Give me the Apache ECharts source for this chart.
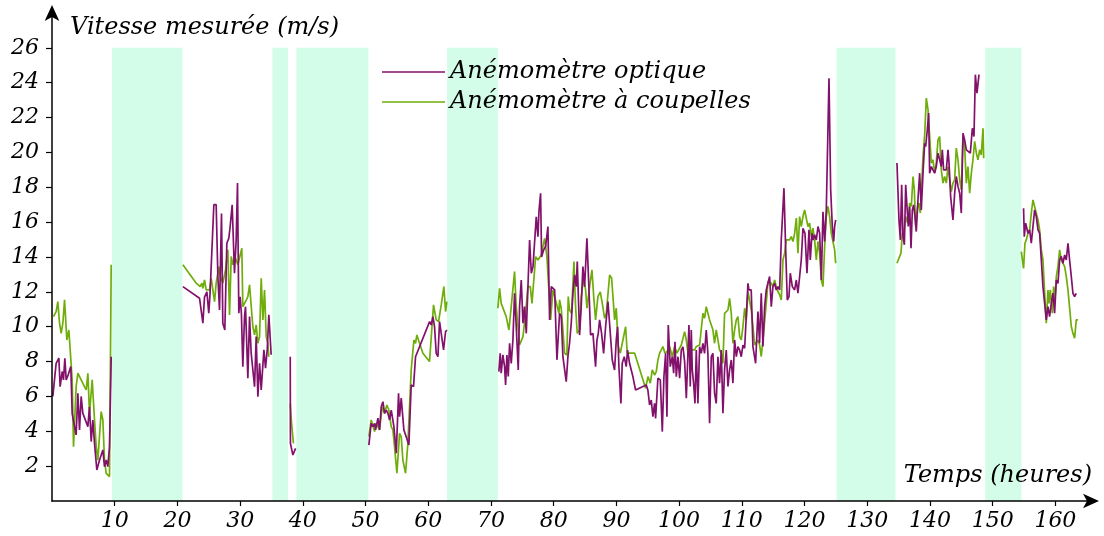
<!DOCTYPE html>
<html>
<head>
<meta charset="utf-8">
<script src="https://cdn.jsdelivr.net/npm/echarts@6/dist/echarts.min.js"></script>
<style>html,body{margin:0;padding:0;background:#fff}#c{width:1104px;height:536px}</style>
</head>
<body>
<div id="c"></div>
<script>
// ---- data ----
const xTicks = [10,20,30,40,50,60,70,80,90,100,110,120,130,140,150,160];
const yTicks = [2,4,6,8,10,12,14,16,18,20,22,24,26];
const bands = [[9.57,20.8],[35.15,37.65],[38.96,50.46],[63.0,71.1],[125.1,134.5],[148.8,154.6]];
const seriesNames = ['Anémomètre optique','Anémomètre à coupelles'];

const optique = [
[0.13,6.0],[0.66,7.9],[1.09,8.2],[1.3,6.56],[1.62,7.43],[1.83,6.95],[2.05,8.19],[2.26,6.95],[2.58,7.24],[3.0,7.72],[3.22,5.0],[3.85,3.79],[4.12,6.18],[4.39,4.08],[4.65,6.0],[4.92,5.03],[5.72,4.27],[5.98,5.41],[6.25,3.41],[6.51,4.65],[6.78,3.31],[7.15,1.78],[7.58,2.35],[8.11,2.93],[8.37,1.97],[8.64,2.35],[8.9,1.97],[9.17,3.12],[9.44,8.28],
[10,null],
[20.87,12.3],[23.53,11.63],[24.06,10.2],[24.32,11.7],[24.7,12.0],[25.0,10.77],[25.2,11.9],[25.5,11.83],[25.81,17.0],[26.18,17.0],[26.45,12.88],[26.71,10.96],[27.03,16.5],[27.24,10.2],[27.56,9.81],[27.88,14.79],[28.2,15.08],[28.41,15.75],[28.73,17.0],[29.1,13.07],[29.37,14.98],[29.58,18.24],[29.79,10.77],[30.0,11.72],[30.2,10.77],[30.43,7.71],[30.7,10.58],[30.86,11.15],[31.23,7.04],[31.5,10.58],[31.76,8.48],[31.92,8.48],[32.3,6.56],[32.56,9.43],[32.83,5.99],[33.1,7.9],[33.36,6.37],[33.79,8.67],[34.05,7.62],[34.32,8.67],[34.58,10.68],[34.95,8.39],
[36,null],
[37.99,8.28],[38.02,3.31],[38.41,2.64],[38.84,3.02],
[45,null],
[50.53,3.21],[50.9,4.46],[51.17,4.27],[51.44,4.46],[51.6,4.08],[51.97,4.75],[52.23,4.08],[52.5,5.41],[52.77,5.7],[53.03,5.03],[53.3,5.22],[53.57,5.03],[53.83,4.65],[54.1,5.22],[54.36,5.22],[54.52,4.27],[54.9,2.74],[55.26,6.18],[55.42,4.84],[55.69,5.9],[56.11,4.08],[56.48,3.69],[56.91,3.21],[57.28,6.66],[57.65,6.56],[57.97,8.28],[60.21,10.29],[60.47,10.1],[60.74,10.58],[61.0,10.0],[61.27,8.47],[61.54,8.28],[61.8,10.29],[62.07,10.29],[62.44,8.67],[62.76,9.72],[62.97,9.81],
[67,null],
[71.26,7.42],[71.47,8.47],[71.63,7.33],[71.9,8.38],[72.17,7.71],[72.33,6.66],[72.54,8.38],[72.75,7.14],[72.97,9.05],[73.23,7.9],[73.5,9.24],[73.76,11.92],[74.03,10.0],[74.35,7.52],[74.56,11.15],[74.83,12.68],[75.1,10.2],[75.36,11.15],[75.63,9.62],[76.16,14.98],[76.43,13.07],[76.7,13.45],[77.22,16.3],[77.49,15.17],[77.65,16.6],[77.91,17.66],[78.07,14.0],[78.39,14.4],[78.71,14.6],[79.08,15.75],[79.35,10.39],[79.62,12.3],[80.15,12.11],[80.52,8.1],
[80.94,10.77],[81.21,10.58],[81.47,8.28],[81.74,8.28],[82.0,6.85],[82.27,8.28],[82.53,9.05],[82.8,10.2],[83.07,11.92],[83.33,12.97],[83.6,12.3],[83.76,13.74],[84.13,9.52],[84.39,11.15],[84.66,13.45],[84.93,12.3],[85.3,15.08],[85.61,12.3],[85.88,9.52],[86.26,9.62],[86.68,7.71],[86.9,9.24],[87.11,9.62],[87.32,10.39],[87.64,9.62],[87.96,8.47],[88.28,10.0],[88.65,11.44],[88.91,10.2],[89.34,8.09],[89.71,7.52],[89.98,9.24],[90.19,10.0],[90.4,7.71],[90.72,5.6],[90.93,7.9],[91.25,8.28],[91.57,7.71],[91.78,8.66],[92.1,7.9],[92.63,7.14],[93.06,6.37],[94.76,6.66],[95.02,6.37],[95.29,5.51],[95.56,5.79],[95.82,4.84],[96.09,5.6],[96.25,4.74],[96.62,7.04],[97.0,6.95],[97.32,3.98],[97.58,7.14],[97.85,8.47],[98.06,4.84],[98.27,10.1],[98.59,7.71],[98.91,8.28],[99.13,7.33],[99.34,9.14],
[99.55,7.13],[99.82,8.28],[100.08,7.04],[100.35,8.66],[100.61,8.85],[100.88,8.0],[101.15,5.9],[101.41,8.47],[101.57,10.1],[101.78,6.57],[101.94,9.81],[102.1,7.52],[102.31,6.76],[102.53,5.6],[102.74,8.66],[103.0,5.6],[103.27,8.85],[103.53,8.47],[103.8,9.05],[104.06,8.47],[104.33,9.81],[104.59,8.47],[104.86,4.46],[105.13,8.28],[105.39,8.47],[105.66,6.18],[105.92,5.6],[106.19,8.28],[106.45,6.76],[106.72,8.66],[106.99,5.03],[107.25,7.52],[107.52,8.66],[107.79,6.57],[108.05,7.52],[108.32,8.09],[108.58,6.76],[108.85,9.24],[109.12,8.28],[109.38,8.85],[109.65,8.66],[109.91,8.28],[110.18,8.95],[110.45,8.76],[110.71,8.66],[110.98,12.49],
[111.13,12.11],[111.5,12.11],[111.77,8.86],[112.2,7.9],[112.57,10.87],[112.83,9.05],[113.1,11.92],[113.37,8.86],[113.64,11.15],[113.9,12.11],[114.16,12.49],[114.43,12.88],[114.7,11.15],[114.96,12.3],[115.23,12.49],[115.49,12.11],[115.76,12.3],[116.03,12.11],[116.29,14.98],[116.72,17.95],[116.98,14.6],[117.25,11.53],[117.52,11.72],[117.73,13.07],[118.05,12.3],[118.42,12.11],[118.69,12.68],[118.95,11.92],[119.22,12.88],[119.48,13.83],[119.75,15.65],[120.07,15.36],[120.39,13.07],[120.71,15.56],[120.92,13.83],[121.19,15.36],[121.35,14.98],[121.61,15.27],[121.88,14.98],[122.15,15.75],[122.41,15.36],[122.68,12.68],[122.94,16.6],[123.21,14.89],[123.47,16.7],[123.9,24.26],[124.17,17.86],[124.43,15.75],[124.65,14.89],[124.8,15.75],[124.96,16.13],
[130,null],
[134.74,19.39],[135.06,16.13],[135.28,14.98],[135.49,18.14],[135.7,15.17],[135.92,14.7],[136.13,18.14],[136.34,16.9],[136.55,15.75],[136.77,16.9],[136.98,14.5],[137.19,16.7],[137.4,16.99],[137.61,16.32],[137.82,15.46],[138.09,17.28],[138.36,18.81],[138.62,16.7],[138.89,18.81],[139.16,20.53],[139.32,20.34],[139.58,21.3],[139.79,22.26],[139.95,18.81],[140.22,19.19],[140.48,19.0],[140.75,18.81],[141.01,19.19],[141.28,19.96],[141.55,19.58],[141.81,19.19],[141.97,20.15],[142.18,19.0],[142.4,19.0],[142.61,19.0],[142.88,20.15],[143.04,19.39],[143.3,17.47],[143.67,16.13],[143.94,17.66],[144.2,18.62],[144.47,18.05],[144.74,17.66],[145.0,16.52],[145.27,21.11],[145.53,20.72],[145.8,20.15],[146.06,20.05],[146.44,19.96],[146.76,21.39],[147.02,20.91],[147.24,24.46],[147.5,23.4],[147.82,24.46],
[150,null],
[154.93,16.8],[155.04,15.17],[155.26,15.94],[155.63,15.36],[155.9,15.56],[156.16,14.79],[156.43,15.75],[156.69,16.7],[156.96,16.32],[157.23,15.56],[157.49,15.36],[157.76,13.83],[158.02,12.3],[158.29,11.34],[158.55,10.39],[158.82,11.15],[159.08,10.58],[159.35,11.34],[159.62,11.92],[159.88,10.77],[160.15,12.68],[160.41,12.49],[160.68,13.83],[160.94,14.03],[161.21,13.64],[161.48,14.12],[161.74,13.83],[162.01,14.79],[162.27,13.83],[162.54,12.88],[162.8,11.92],[163.07,11.73],[163.33,11.92]
];

const coupelles = [
[0.24,10.58],[0.66,10.87],[0.93,11.44],[1.2,10.2],[1.46,9.62],[1.73,10.2],[2.0,11.54],[2.37,9.24],[2.69,9.81],[3.0,9.81],[3.22,6.95],[3.43,3.12],[3.85,6.56],[4.12,7.33],[4.65,6.95],[5.18,6.56],[5.45,6.37],[5.72,7.33],[5.98,5.03],[6.41,6.95],[6.78,4.65],[7.05,3.12],[7.31,2.35],[7.84,5.13],[8.11,4.65],[8.37,2.35],[8.64,1.59],[9.17,1.4],[9.44,13.55],
[10,null],
[20.87,13.55],[23.0,12.5],[23.63,12.3],[23.9,12.5],[24.06,12.2],[24.32,12.68],[24.59,12.11],[25.12,12.11],[25.39,12.78],[25.65,12.78],[25.92,11.44],[26.18,12.5],[26.61,13.45],[26.82,12.88],[27.25,12.5],[27.67,13.26],[28.04,14.41],[28.31,10.68],[28.58,14.03],[28.84,13.55],[29.11,14.03],[29.37,13.83],[29.64,13.55],[29.9,13.64],[30.27,14.5],[30.43,11.15],[30.7,11.25],[30.97,11.53],[31.23,11.72],[31.5,12.4],[31.76,12.4],[32.03,10.0],[32.3,9.53],[32.56,10.1],[32.83,9.05],[33.1,9.43],[33.36,12.78],[33.63,10.39],[33.89,12.11],[34.16,9.43],[34.42,9.05],[34.58,8.28],
[36,null],
[37.99,5.6],[38.2,4.45],[38.5,3.31],
[45,null],
[50.53,3.69],[50.9,4.65],[51.17,4.75],[51.44,3.98],[51.7,4.46],[51.97,4.27],[52.23,4.08],[52.66,5.41],[53.03,5.03],[53.4,5.51],[53.72,5.22],[54.09,4.27],[54.36,4.08],[54.62,3.12],[55.0,1.59],[55.42,3.88],[55.69,3.69],[55.95,2.35],[56.38,1.59],[56.75,3.31],[57.28,7.52],[57.55,7.52],[57.71,9.24],[57.97,9.05],[58.18,9.53],[59.14,8.48],[60.2,8.0],[60.47,7.9],[60.84,11.25],[61.27,10.39],[61.64,10.29],[62.07,11.25],[62.49,12.3],[62.76,10.87],[62.97,11.44],
[67,null],
[71.1,11.06],[71.37,12.2],[71.63,11.34],[71.9,11.44],[72.43,10.58],[72.86,9.81],[73.23,11.15],[73.76,13.16],[74.03,11.15],[74.56,8.95],[75.1,9.43],[75.52,10.77],[75.89,12.3],[76.27,12.3],[76.54,11.34],[77.12,14.02],[77.49,13.83],[78.02,14.12],[78.55,15.07],[78.92,14.02],[79.51,10.39],[79.88,12.11],[80.84,10.77],
[80.94,11.54],[81.2,11.06],[81.47,9.82],[81.74,8.48],[82.11,8.38],[82.32,11.73],[82.53,10.96],[82.85,10.77],[83.23,13.74],[83.49,11.15],[83.76,9.62],[84.13,9.82],[84.39,11.73],[84.77,12.78],[85.09,12.11],[85.3,11.06],[85.73,12.3],[86.1,13.26],[86.42,11.54],[86.68,10.39],[87.05,11.73],[87.43,12.0],[87.75,11.34],[88.12,10.48],[88.39,10.77],[88.92,12.97],[89.24,12.78],[89.72,10.39],[89.98,11.06],[90.3,8.86],[90.62,8.48],[91.04,9.24],[91.47,10.0],[91.73,8.48],[92.91,8.48],[94.66,6.47],[95.03,7.14],[95.41,6.76],[95.72,7.52],[96.09,7.23],[96.36,7.42],[96.62,8.09],[96.89,8.48],[97.16,8.67],[97.42,8.86],[97.74,8.48],[98.06,8.57],[98.48,8.86],[98.91,8.29],[99.28,8.86],[99.65,8.48],
[100.35,8.95],[100.61,8.86],[100.88,9.72],[101.15,9.24],[101.41,8.48],[101.68,8.29],[101.94,8.67],[102.21,8.76],[102.47,8.67],[102.74,8.86],[103.27,8.95],[103.8,10.77],[104.06,10.49],[104.33,11.15],[104.59,11.25],[104.86,10.39],[105.13,10.49],[105.39,9.82],[105.66,9.05],[105.92,9.82],[106.19,9.24],[106.45,8.67],[106.72,8.48],[106.99,7.9],[107.25,10.77],[107.79,10.96],[108.05,11.63],[108.32,10.77],[108.58,9.05],[108.85,9.82],[109.12,10.39],[109.38,10.58],[109.65,9.43],[109.91,9.24],[110.18,10.01],[110.45,11.06],[110.71,10.39],[110.98,12.02],[111.24,11.92],[111.51,10.96],[111.78,10.01],[112.04,8.95],[112.31,9.05],[112.57,9.24],[112.84,8.95],[113.1,8.29],[113.37,9.24],[113.64,10.3],[113.9,11.35],[114.17,12.59],[114.43,12.49],[114.7,12.49],[114.96,12.3],[115.23,12.68],[115.49,12.3],[115.76,12.02],[116.03,11.83],[116.29,11.54],
[116.56,13.83],[116.83,14.22],[117.09,14.98],[117.36,15.08],[117.62,14.98],[117.89,15.17],[118.16,14.89],[118.42,15.36],[118.69,16.23],[118.95,14.22],[119.22,16.32],[119.48,15.75],[119.75,16.32],[120.01,16.7],[120.28,16.7],[120.55,15.75],[120.81,15.94],[121.08,15.17],[121.34,15.65],[121.61,14.98],[121.88,13.83],[122.14,14.89],[122.41,14.22],[122.68,12.68],[122.94,12.3],[123.21,14.6],[123.47,16.32],[123.74,16.9],[124.0,16.32],[124.27,15.36],[124.54,15.36],[124.8,14.41],[124.96,13.64],
[130,null],
[134.74,13.64],[135.38,14.22],[135.6,15.36],[135.81,15.17],[136.13,16.32],[136.45,15.94],[136.77,17.09],[137.03,16.9],[137.3,18.62],[137.51,17.85],[137.72,15.75],[138.04,16.9],[138.25,17.09],[138.46,16.52],[138.68,18.05],[138.89,19.77],[139.16,21.01],[139.42,23.12],[139.69,22.45],[139.95,22.45],[140.22,19.39],[140.48,19.58],[140.75,18.81],[141.01,19.39],[141.28,20.72],[141.55,20.91],[141.81,19.0],[142.08,18.24],[142.34,18.62],[142.61,18.24],[142.88,19.19],[143.14,18.43],[143.41,17.76],[143.67,18.24],[143.94,18.43],[144.2,20.25],[144.47,19.58],[144.74,18.43],[145.0,17.85],[145.27,20.91],[145.53,20.34],[145.8,18.24],[146.06,19.19],[146.33,17.66],[146.6,18.81],[146.86,19.58],[147.13,20.63],[147.4,19.96],[147.66,19.58],[147.93,20.15],[148.19,19.86],[148.46,21.39],[148.57,19.67],
[150,null],
[154.57,14.31],[154.93,13.35],[155.15,14.79],[155.36,14.98],[155.63,15.36],[155.9,15.56],[156.16,16.52],[156.43,17.28],[156.69,16.9],[156.96,16.9],[157.23,16.13],[157.49,15.56],[157.76,14.41],[158.02,13.83],[158.29,11.92],[158.55,10.2],[158.82,12.11],[158.98,11.34],[159.19,12.11],[159.51,10.77],[159.72,12.3],[159.93,11.54],[160.15,12.88],[160.41,13.45],[160.68,14.41],[160.94,13.83],[161.21,13.64],[161.48,13.45],[161.74,12.88],[162.01,12.11],[162.27,12.11],[162.54,10.01],[162.8,9.62],[163.07,9.34],[163.33,10.39],[163.6,10.39]
];

// ---- chart ----
const FONT = 'DejaVu Serif';
const PURPLE = '#82116c';
const GREEN = '#6fad0a';
const chart = echarts.init(document.getElementById('c'), null, {renderer: 'canvas'});
const labelStyle = {color: '#000', fontFamily: FONT, fontStyle: 'italic', fontSize: 22};
const titleStyle = {color: '#000', fontFamily: FONT, fontStyle: 'italic', fontSize: 24};

chart.setOption({
  animation: false,
  backgroundColor: '#fff',
  grid: {left: 52, right: 11, top: 13, bottom: 35, containLabel: false},
  legend: {
    data: [
      {name: seriesNames[0], icon: 'rect', itemStyle: {color: PURPLE}},
      {name: seriesNames[1], icon: 'rect', itemStyle: {color: GREEN}}
    ],
    orient: 'vertical',
    left: 377, top: 55,
    itemWidth: 63, itemHeight: 1.6, itemGap: 6,
    textStyle: Object.assign({}, titleStyle, {lineHeight: 24}),
    selectedMode: false
  },
  xAxis: {
    type: 'value', min: 0, max: 166, z: 10,
    name: 'Temps (heures)', nameLocation: 'end', nameGap: -1,
    nameTextStyle: Object.assign({}, titleStyle, {align: 'right', verticalAlign: 'bottom', padding: [0, 0, 13, 0]}),
    axisLine: {lineStyle: {color: '#000', width: 1.5}, symbol: ['none', 'arrow'], symbolSize: [11, 16], symbolOffset: [0, 6]},
    axisTick: {show: true, length: 5, lineStyle: {color: '#000', width: 1.2}, customValues: xTicks},
    axisLabel: Object.assign({}, labelStyle, {margin: 9, customValues: xTicks}),
    splitLine: {show: false}
  },
  yAxis: {
    type: 'value', min: 0, max: 28, z: 10,
    name: 'Vitesse mesurée (m/s)', nameLocation: 'end', nameGap: -15,
    nameTextStyle: Object.assign({}, titleStyle, {align: 'left', verticalAlign: 'middle', padding: [0, 0, 0, 18]}),
    axisLine: {lineStyle: {color: '#000', width: 1.5}, symbol: ['none', 'arrow'], symbolSize: [11, 16], symbolOffset: [0, 8]},
    axisTick: {show: true, length: 6, lineStyle: {color: '#000', width: 1.2}, customValues: yTicks},
    axisLabel: Object.assign({}, labelStyle, {margin: 13, customValues: yTicks}),
    splitLine: {show: false}
  },
  series: [
    {
      name: 'bands', type: 'line', data: [], z: 0, silent: true,
      markArea: {
        silent: true,
        itemStyle: {color: '#d4fde9'},
        data: bands.map(b => [{xAxis: b[0], yAxis: 0}, {xAxis: b[1], yAxis: 26}])
      }
    },
    {
      name: seriesNames[1], type: 'line', data: coupelles, z: 2,
      symbol: 'none', showSymbol: false, connectNulls: false,
      lineStyle: {color: GREEN, width: 1.7}, itemStyle: {color: GREEN}
    },
    {
      name: seriesNames[0], type: 'line', data: optique, z: 3,
      symbol: 'none', showSymbol: false, connectNulls: false,
      lineStyle: {color: PURPLE, width: 1.7}, itemStyle: {color: PURPLE}
    }
  ]
});
</script>
</body>
</html>
